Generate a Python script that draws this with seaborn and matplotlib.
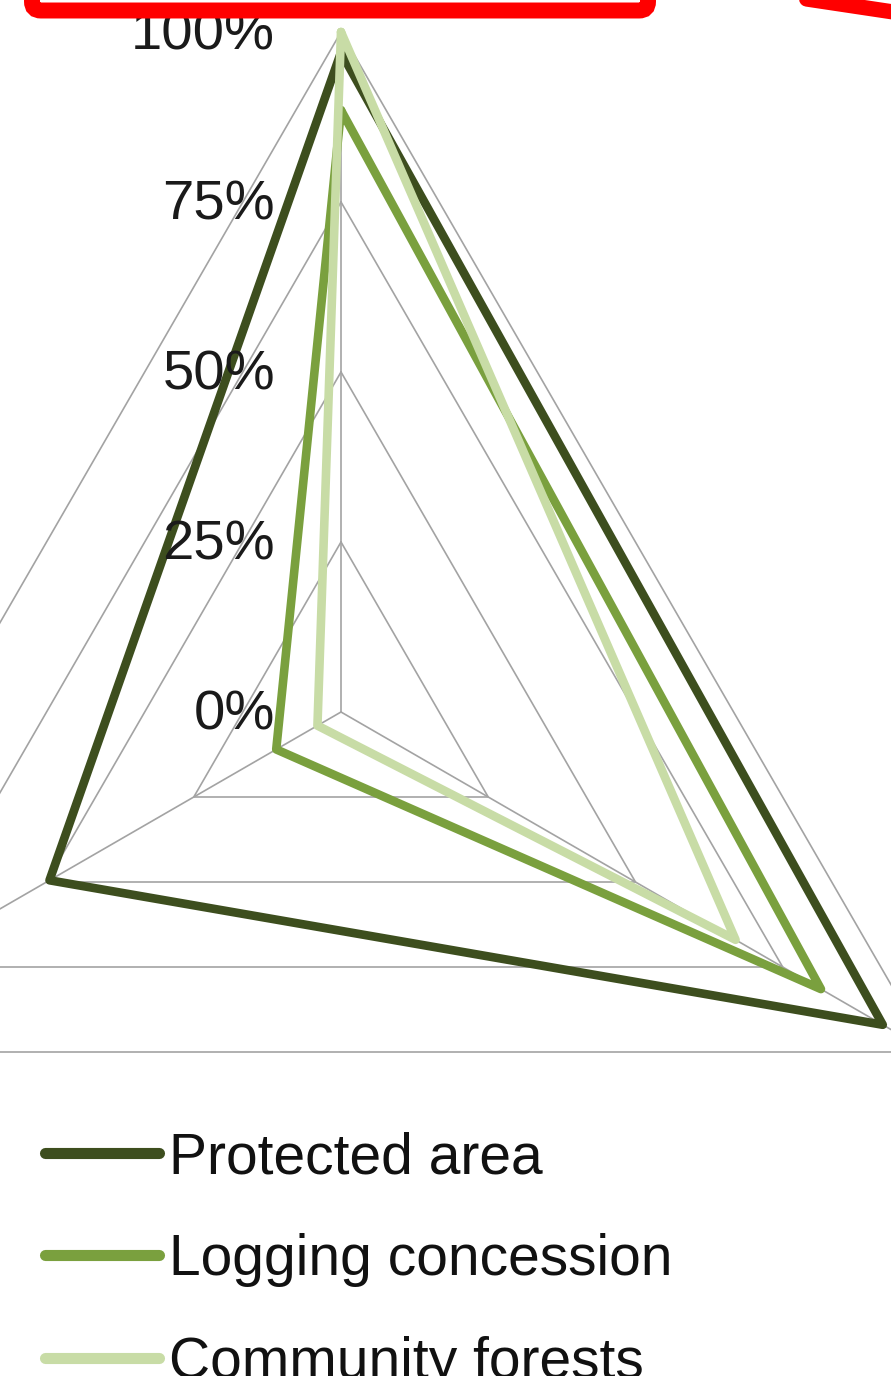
"""Radar chart: share of forest by management type"""
import numpy as np
import pandas as pd
import matplotlib
matplotlib.use("Agg")
import matplotlib.pyplot as plt
import matplotlib.transforms as mtransforms
from matplotlib.patches import FancyBboxPatch
from matplotlib.lines import Line2D
import seaborn as sns

# data (axis order: top, bottom-right, bottom-left)
series = ['Protected area', 'Logging concession', 'Community forests']
protected = [0.97, 0.92, 0.495]
logging = [0.885, 0.815, 0.11]
community = [1.00, 0.67, 0.04]
ring_levels = [0.25, 0.50, 0.75, 1.00]
tick_levels = [0.0, 0.25, 0.50, 0.75, 1.00]
tick_labels = ['0%', '25%', '50%', '75%', '100%']
colors = ['#3d4e1e', '#7aa03e', '#c8dca6']

n_axes = 3
theta = np.linspace(0, 2 * np.pi, n_axes, endpoint=False)
theta_closed = np.append(theta, 2 * np.pi)

rows = []
for name, vals in zip(series, [protected, logging, community]):
    vals_closed = list(vals) + [vals[0]]
    for t, r in zip(theta_closed, vals_closed):
        rows.append({'series': name, 'theta': t, 'r': r})
df = pd.DataFrame(rows)

sns.set_theme(style='white')
plt.rcParams['font.family'] = ['Liberation Sans', 'DejaVu Sans']

W, H = 891, 1376
fig = plt.figure(figsize=(W / 100, H / 100), dpi=100)
fig.patch.set_facecolor('white')

# chart centre and radius in pixels (chart runs past the figure edges)
cx, cy, R = 341, H - 712, 680
ax = fig.add_axes([(cx - R) / W, (cy - R) / H, 2 * R / W, 2 * R / H],
                  projection='polar')
ax.set_theta_zero_location('N')
ax.set_theta_direction(-1)
ax.set_ylim(0, 1)
ax.grid(False)
ax.set_xticks([])
ax.set_yticks([])
ax.spines['polar'].set_visible(False)
ax.patch.set_visible(False)

# triangular gridlines and spokes
grid_kw = dict(color='#a3a3a3', lw=1.2, zorder=1, clip_on=False)
for lev in ring_levels:
    ax.plot(theta_closed, [lev] * len(theta_closed), **grid_kw)
for t in theta:
    ax.plot([t, t], [0, 1], **grid_kw)

sns.lineplot(data=df, x='theta', y='r', hue='series', hue_order=series,
             palette=colors, sort=False, estimator=None, linewidth=6.2,
             legend=False, ax=ax, zorder=3)
data_lines = ax.lines[-3:]
for ln in data_lines:
    ln.set_solid_joinstyle('round')
    ln.set_clip_on(False)
ax.set_xlabel('')
ax.set_ylabel('')

# radial labels to the left of the top spoke
lbl_tr = mtransforms.offset_copy(ax.transData, fig=fig, x=-66, y=-4, units='dots')
for lev, lab in zip(tick_levels, tick_labels):
    ax.text(0, lev, lab, transform=lbl_tr, ha='right', va='center',
            fontsize=40.5, color='#1a1a1a', zorder=5)

# legend
handles = [Line2D([], [], color=c, lw=8, solid_capstyle='round') for c in colors]
leg = fig.legend(handles, series, loc='upper left',
                 bbox_to_anchor=(45 / W, 1 - 1131 / H), frameon=False,
                 fontsize=41, handlelength=2.0, handletextpad=0.18,
                 labelspacing=0.85, borderpad=0, borderaxespad=0)
for t in leg.get_texts():
    t.set_color('#111111')

# red annotation overlay at the top
ident = mtransforms.IdentityTransform()
box = FancyBboxPatch((32, H - 10.5), 616, 200,
                     boxstyle='round,pad=0,rounding_size=9',
                     facecolor='white', edgecolor='#ff0000', lw=11.5,
                     transform=ident, zorder=10)
fig.add_artist(box)
fig.add_artist(Line2D([700, 960], [H + 17, H - 22], color='#ff0000', lw=11,
                      transform=ident, zorder=10))

fig.savefig('out.png', dpi=100, facecolor='white')
